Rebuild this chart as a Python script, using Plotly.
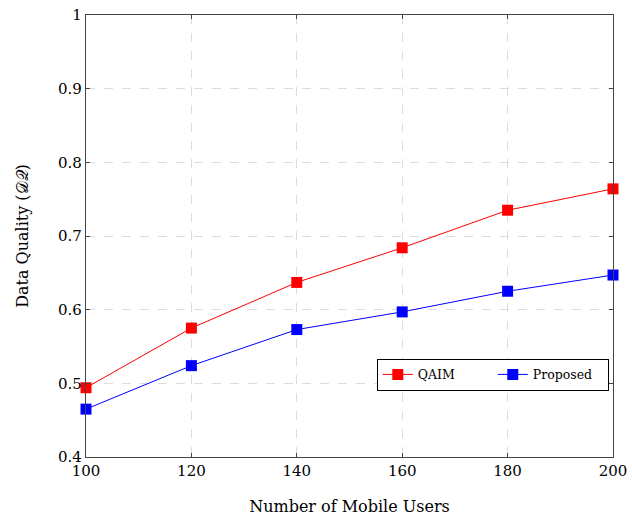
import plotly.graph_objects as go

users = [100, 120, 140, 160, 180, 200]
qaim = [0.494, 0.575, 0.637, 0.684, 0.735, 0.764]
proposed = [0.465, 0.524, 0.573, 0.597, 0.625, 0.647]
x_ticks = [100, 120, 140, 160, 180, 200]
y_ticks = [0.4, 0.5, 0.6, 0.7, 0.8, 0.9, 1.0]
y_tick_labels = ["0.4", "0.5", "0.6", "0.7", "0.8", "0.9", "1"]

font_family = "DejaVu Serif, Liberation Serif, serif"

fig = go.Figure()
fig.add_trace(go.Scatter(x=users, y=qaim, mode="lines+markers", name="QAIM",
                         line=dict(color="red", width=1),
                         marker=dict(symbol="square", size=11, color="red"),
                         cliponaxis=False))
fig.add_trace(go.Scatter(x=users, y=proposed, mode="lines+markers", name="Proposed",
                         line=dict(color="blue", width=1),
                         marker=dict(symbol="square", size=11, color="blue"),
                         cliponaxis=False))

axis_common = dict(showline=True, linecolor="#444", linewidth=1.2, mirror="ticks",
                   ticks="inside", ticklen=4, tickcolor="#444", automargin=False,
                   showgrid=True, gridcolor="#dcdcdc", griddash="dash", gridwidth=1,
                   zeroline=False, tickfont=dict(size=15, color="black", family=font_family))

fig.update_xaxes(range=[100, 200], tickvals=x_ticks,
                 title=dict(text="Number of Mobile Users", font=dict(size=16, color="black", family=font_family), standoff=21),
                 **axis_common)
fig.update_yaxes(range=[0.4, 1.0], tickvals=y_ticks, ticktext=y_tick_labels,
                 title=dict(text="Data Quality (𝒟𝒬)", font=dict(size=16, color="black", family=font_family), standoff=25),
                 **axis_common)

fig.update_layout(
    width=632, height=520,
    margin=dict(l=86, r=19, t=15, b=63),
    plot_bgcolor="white", paper_bgcolor="white",
    font=dict(family=font_family, color="black"),
    legend=dict(orientation="h", x=0.992, y=0.186, xanchor="right", yanchor="middle",
                bordercolor="black", borderwidth=1, bgcolor="white",
                font=dict(size=12.5, family=font_family), itemwidth=30,
                entrywidth=70, entrywidthmode="pixels",
                tracegroupgap=0),
    showlegend=True,
)

fig.write_html("out.html")
